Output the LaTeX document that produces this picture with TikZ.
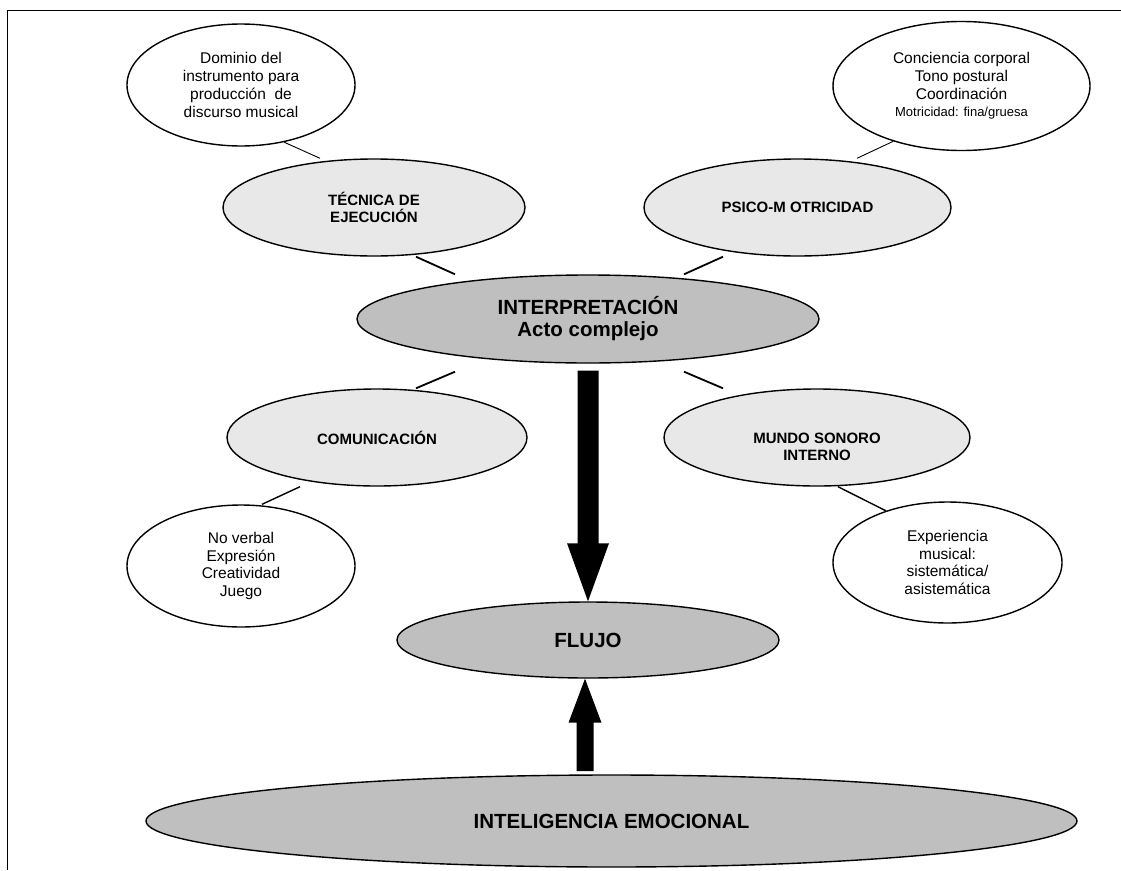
\documentclass[tikz,border=0pt]{standalone}
\usepackage{fontspec}
\setmainfont{Liberation Sans}
\usetikzlibrary{shapes.geometric,calc}
\begin{document}
\begin{tikzpicture}[x=1pt,y=-1pt,
  ell/.style={ellipse, draw=black, line width=1.4pt, inner sep=0pt, align=center},
  notebox/.style={ell, fill=white, font=\fontsize{15.5}{17.8}\selectfont},
  subbox/.style={ell, fill=gray!18, font=\bfseries\fontsize{15}{17}\selectfont},
  mainbox/.style={ell, fill=gray!50, font=\bfseries\fontsize{20.5}{22}\selectfont},
  labeltext/.style={inner sep=0pt, align=center, font=\bfseries\fontsize{15}{17}\selectfont},
  cthin/.style={line width=0.9pt},
  cmid/.style={line width=1.4pt},
  cthick/.style={line width=1.8pt},
  bigarrow/.style={fill=black}
]
\useasboundingbox (0,0) rectangle (1121,870);
\draw[line width=1.5pt] (7.5,870) -- (7.5,10.5) -- (1121,10.5);

\node[notebox, minimum width=228pt, minimum height=122pt] (dom) at (241,85)
  {Dominio del\\instrumento para\\producción \ de\\discurso musical};
\node[notebox, minimum width=257pt, minimum height=129pt] (tr) at (961.5,86)
  {Conciencia corporal\\Tono postural\\Coordinación\\{\fontsize{13}{15}\selectfont Motricidad: fina/gruesa}};
\node[subbox, minimum width=302pt, minimum height=97pt] (tec) at (374,207.5)
  {TÉCNICA DE\\EJECUCIÓN};
\node[subbox, minimum width=307pt, minimum height=97pt] (psi) at (797.5,207.5)
  {PSICO-M OTRICIDAD};
\node[mainbox, minimum width=462pt, minimum height=88pt] (int) at (588,319)
  {INTERPRETACIÓN\\Acto complejo};
\node[subbox, minimum width=300pt, minimum height=97pt] (com) at (377,437.5)
  {COMUNICACIÓN};
\node[subbox, minimum width=306pt, minimum height=97pt] (mun) at (817,437.5) {};
\node[labeltext] (munt) at ($(mun.center)+(0,9)$) {MUNDO SONORO\\INTERNO};
\node[notebox, minimum width=228pt, minimum height=122pt] (nv) at (241,566)
  {No verbal\\Expresión\\Creatividad\\Juego};
\node[notebox, minimum width=229pt, minimum height=121pt] (exp) at (947.5,562.5)
  {Experiencia\\musical:\\sistemática/\\asistemática};
\node[mainbox, minimum width=382pt, minimum height=76pt] (flu) at (588,640)
  {FLUJO};
\node[mainbox, minimum width=931pt, minimum height=92pt] (emo) at (611.5,821)
  {INTELIGENCIA EMOCIONAL};

% connectors
\draw[cthin] (dom.-53) -- ($(tec.north)+(-54,0)$);
\draw[cthin] (tr.219.3) -- ($(psi.north)+(59.5,0)$);
\draw[cthick] ($(tec.south)+(42,0)$) -- ($(int.north)+(-133,0)$);
\draw[cthick] ($(psi.south)+(-74.5,0)$) -- ($(int.north)+(96,0)$);
\draw[cthick] ($(int.south)+(-133,8)$) -- ($(com.north)+(39,0)$);
\draw[cthick] ($(int.south)+(96,8)$) -- ($(mun.north)+(-94,0)$);
\draw[cmid] ($(com.south)+(-77,0)$) -- ($(nv.north)+(21,0)$);
\draw[cmid] ($(mun.south)+(21,0)$) -- (exp.140.5);

% big arrows
\coordinate (da1) at ($(int.south)+(0,7)$);
\coordinate (da2) at (flu.north);
\fill[bigarrow] ($(da1)+(-10.5,0)$) -- ($(da1)+(10.5,0)$) -- ($(da2)+(10.5,-58)$)
  -- ($(da2)+(21,-58)$) -- (da2) -- ($(da2)+(-21,-58)$) -- ($(da2)+(-10.5,-58)$) -- cycle;
\coordinate (ua1) at (585,771);
\coordinate (ua2) at (flu.south -| ua1);
\fill[bigarrow] ($(ua1)+(-8.5,0)$) -- ($(ua1)+(8.5,0)$) -- ($(ua2)+(8.5,44)$)
  -- ($(ua2)+(16.5,44)$) -- (ua2) -- ($(ua2)+(-16.5,44)$) -- ($(ua2)+(-8.5,44)$) -- cycle;
\end{tikzpicture}
\end{document}
